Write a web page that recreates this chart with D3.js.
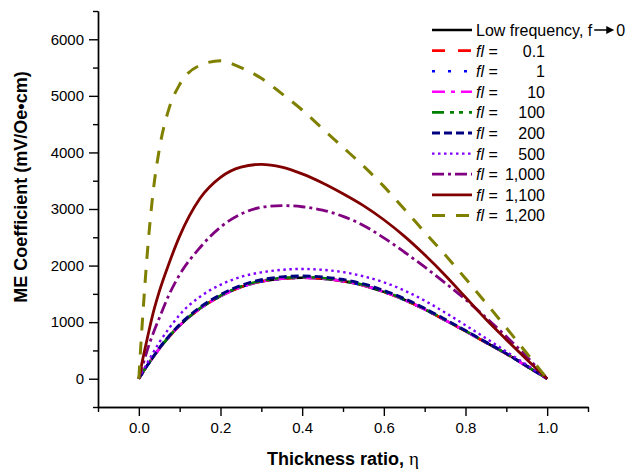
<!DOCTYPE html>
<html>
<head>
<meta charset="utf-8">
<script src="https://cdn.jsdelivr.net/npm/d3@7"></script>
<style>
  html, body { margin: 0; padding: 0; background: #fff; }
  svg { display: block; font-family: "Liberation Sans", Arial, sans-serif; }
</style>
</head>
<body>
<div id="chart"></div>
<script>
// ========= DATA =========
// thickness ratio η sample points
const ETA = [0, 0.005, 0.01, 0.02, 0.035, 0.05, 0.075, 0.1, 0.15, 0.2, 0.25, 0.3, 0.35,
             0.4, 0.45, 0.5, 0.55, 0.6, 0.65, 0.7, 0.75, 0.8, 0.85, 0.9, 0.95, 1.0];

// ME coefficient (mV/Oe·cm)
const ME_LOW  = [0, 60, 115, 225, 380, 530, 750, 940, 1240, 1460, 1620, 1720, 1770, 1785, 1770, 1725, 1650, 1535, 1395, 1225, 1035, 840, 640, 440, 220, 0];
const ME_01   = [0, 60, 115, 225, 380, 530, 750, 940, 1240, 1460, 1620, 1720, 1770, 1785, 1770, 1725, 1650, 1535, 1395, 1225, 1035, 840, 640, 440, 220, 0];
const ME_1    = [0, 60, 115, 225, 380, 530, 750, 940, 1240, 1460, 1620, 1720, 1770, 1785, 1770, 1725, 1650, 1535, 1395, 1225, 1035, 840, 640, 440, 220, 0];
const ME_10   = [0, 60, 115, 225, 380, 530, 750, 940, 1240, 1460, 1620, 1720, 1770, 1785, 1770, 1725, 1650, 1535, 1395, 1225, 1035, 840, 640, 440, 220, 0];
const ME_100  = [0, 60, 116, 227, 383, 534, 755, 946, 1248, 1469, 1630, 1730, 1780, 1795, 1780, 1735, 1660, 1544, 1403, 1232, 1041, 845, 644, 443, 222, 0];
const ME_200  = [0, 61, 118, 230, 388, 541, 765, 958, 1263, 1486, 1648, 1749, 1800, 1815, 1799, 1753, 1676, 1559, 1416, 1243, 1050, 852, 649, 446, 223, 0];
const ME_500  = [0, 70, 140, 270, 460, 640, 900, 1130, 1450, 1660, 1800, 1880, 1925, 1940, 1925, 1885, 1810, 1705, 1560, 1380, 1170, 945, 715, 480, 245, 0];
const ME_1000 = [0, 125, 250, 490, 800, 1070, 1500, 1840, 2320, 2680, 2910, 3030, 3060, 3040, 2980, 2870, 2710, 2490, 2240, 1975, 1695, 1400, 1080, 745, 390, 0];
const ME_1100 = [0, 180, 360, 690, 1160, 1540, 2060, 2520, 3190, 3560, 3740, 3790, 3740, 3620, 3460, 3270, 3060, 2810, 2520, 2190, 1830, 1440, 1050, 690, 340, 0];
const ME_1200 = [0, 600, 1150, 2150, 3300, 4050, 4800, 5200, 5540, 5620, 5500, 5310, 5040, 4750, 4420, 4090, 3760, 3400, 3000, 2590, 2190, 1770, 1340, 900, 450, 0];

const SERIES_VALUES = [ME_LOW, ME_01, ME_1, ME_10, ME_100, ME_200, ME_500, ME_1000, ME_1100, ME_1200];
const SERIES_FL = [null, "0.1", "1", "10", "100", "200", "500", "1,000", "1,100", "1,200"];

const X_TICKS = [0, 0.2, 0.4, 0.6, 0.8, 1.0];
const Y_TICKS = [0, 1000, 2000, 3000, 4000, 5000, 6000];

// ========= STYLES =========
const STYLES = [
  { color: "#000000", width: 2.6, dash: null },
  { color: "#ff0000", width: 2.6, dash: "13,13" },
  { color: "#0000ff", width: 2.6, dash: "3,13" },
  { color: "#ff00ff", width: 2.6, dash: "13,6,4,6" },
  { color: "#008000", width: 2.6, dash: "12,6,4,5,4,6" },
  { color: "#000080", width: 2.9, dash: "8,4" },
  { color: "#8000ff", width: 2.4, dash: "2.5,3.5" },
  { color: "#800080", width: 2.8, dash: "12,4,3,4" },
  { color: "#800000", width: 2.8, dash: null },
  { color: "#808000", width: 3.0, dash: "13,11" }
];

// ========= LAYOUT =========
const W = 630, H = 469;
const X0 = 98, X1 = 588, YTOP = 11, YBOT = 407;

const svg = d3.select("#chart").append("svg")
  .attr("width", W).attr("height", H);

const x = d3.scaleLinear().domain([-0.1, 1.1]).range([X0, X1]);
const y = d3.scaleLinear().domain([-500, 6500]).range([YBOT, YTOP]);

// minor ticks
const xMinor = d3.range(-0.1, 1.1001, 0.1).map(v => +v.toFixed(2)).filter(v => !X_TICKS.some(t => Math.abs(t - v) < 1e-6));
const yMinor = d3.range(-500, 6501, 1000);

function styleAxis(g){
  g.selectAll("path.domain").attr("stroke", "#000").attr("stroke-width", 1.4);
  g.selectAll(".tick line").attr("stroke", "#000").attr("stroke-width", 1.4);
  g.selectAll(".tick text").attr("fill", "#000").style("font-size", "15px")
    .style("font-family", "'Liberation Sans', Arial, sans-serif");
}

// x axis
svg.append("g")
  .attr("transform", `translate(0,${YBOT})`)
  .call(d3.axisBottom(x).tickValues(xMinor).tickSize(5).tickSizeOuter(0).tickFormat(""))
  .call(styleAxis);
svg.append("g")
  .attr("transform", `translate(0,${YBOT})`)
  .call(d3.axisBottom(x).tickValues(X_TICKS).tickSize(9).tickPadding(6).tickSizeOuter(0).tickFormat(d3.format(".1f")))
  .call(styleAxis);

// y axis
svg.append("g")
  .attr("transform", `translate(${X0},0)`)
  .call(d3.axisLeft(y).tickValues(yMinor).tickSize(5).tickSizeOuter(0).tickFormat(""))
  .call(styleAxis);
svg.append("g")
  .attr("transform", `translate(${X0},0)`)
  .call(d3.axisLeft(y).tickValues(Y_TICKS).tickSize(9).tickPadding(5).tickSizeOuter(0).tickFormat(d3.format("d")))
  .call(styleAxis);

// axis titles
const xt = svg.append("text")
  .attr("x", (X0 + X1) / 2).attr("y", 465)
  .attr("text-anchor", "middle")
  .style("font-size", "18px").style("font-weight", "bold");
xt.append("tspan").text("Thickness ratio, ");
xt.append("tspan").style("font-family", "'Liberation Serif', 'Times New Roman', serif")
  .style("font-weight", "normal").style("font-size", "19px").text("η");

svg.append("text")
  .attr("transform", "translate(27,187) rotate(-90)")
  .attr("text-anchor", "middle")
  .style("font-size", "18px").style("font-weight", "bold")
  .text("ME Coefficient (mV/Oe•cm)");

// ========= CURVES =========
const line = d3.line()
  .x(d => x(d[0]))
  .y(d => y(d[1]))
  .curve(d3.curveMonotoneX);

const curves = svg.append("g");
SERIES_VALUES.forEach((vals, i) => {
  const st = STYLES[i];
  curves.append("path")
    .datum(ETA.map((e, k) => [e, vals[k]]))
    .attr("fill", "none")
    .attr("stroke", st.color)
    .attr("stroke-width", st.width)
    .attr("stroke-dasharray", st.dash)
    .attr("stroke-linejoin", "round")
    .attr("d", line);
});

// ========= LEGEND =========
const LX = 432, LW = 40, LY0 = 30, LDY = 20.6;
const leg = svg.append("g").style("font-size", "16px");

SERIES_FL.forEach((fl, i) => {
  const st = STYLES[i];
  const yy = LY0 + i * LDY;
  leg.append("line")
    .attr("x1", LX).attr("x2", LX + LW)
    .attr("y1", yy).attr("y2", yy)
    .attr("stroke", st.color)
    .attr("stroke-width", st.width)
    .attr("stroke-dasharray", st.dash);

  if (fl === null) {
    const t = leg.append("text").attr("x", 476).attr("y", yy + 6).text("Low frequency, f");
    const tw = t.node().getComputedTextLength();
    const ax0 = 476 + tw + 2, ax1 = ax0 + 20;
    leg.append("line").attr("x1", ax0).attr("x2", ax1 - 6)
      .attr("y1", yy).attr("y2", yy).attr("stroke", "#000").attr("stroke-width", 1.5);
    leg.append("path")
      .attr("d", `M${ax1 - 8},${yy - 4}L${ax1},${yy}L${ax1 - 8},${yy + 4}Z`)
      .attr("fill", "#000");
    leg.append("text").attr("x", ax1 + 2).attr("y", yy + 6).text("0");
  } else {
    const t = leg.append("text").attr("x", 476).attr("y", yy + 6);
    t.append("tspan").style("font-style", "italic").text("fl");
    t.append("tspan").text(" =");
    leg.append("text").attr("x", 545).attr("y", yy + 6)
      .attr("text-anchor", "end").text(fl);
  }
});
</script>
</body>
</html>
